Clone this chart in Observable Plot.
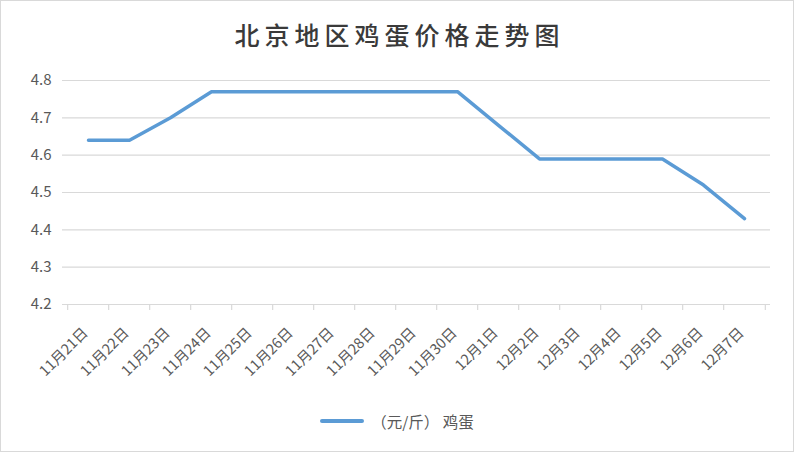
<!DOCTYPE html>
<html><head><meta charset="utf-8">
<script src="https://cdn.jsdelivr.net/npm/d3@7"></script>
<script src="https://cdn.jsdelivr.net/npm/@observablehq/plot@0.6"></script>
<style>
body{margin:0;background:#fff;}
#wrap{position:relative;width:794px;height:452px;background:#fff;overflow:hidden;font-family:"Noto Sans CJK SC",sans-serif;}
#frame{position:absolute;left:0;top:0;width:792px;height:450px;border:1px solid #d9d9d9;pointer-events:none;}
#title{position:absolute;left:0;top:14px;width:794px;text-align:center;font-size:25px;font-weight:500;letter-spacing:5px;text-indent:5px;color:#3a3a3a;line-height:40px;}
#chart{position:absolute;left:0;top:60px;}
#legend{position:absolute;top:408px;left:0;width:794px;display:flex;justify-content:center;align-items:center;font-size:15.5px;color:#595959;line-height:26px;}
#legend .sw{width:44px;height:4px;border-radius:2px;background:#5b9bd5;margin-right:7px;}
</style>
</head><body>
<div id="wrap">
  <div id="title">北京地区鸡蛋价格走势图</div>
  <div id="chart"></div>
  <div id="legend"><span class="sw"></span><span>（元/斤） 鸡蛋</span></div>
  <div id="frame"></div>
</div>
<script>
const dates = ["11月21日","11月22日","11月23日","11月24日","11月25日","11月26日","11月27日","11月28日","11月29日","11月30日","12月1日","12月2日","12月3日","12月4日","12月5日","12月6日","12月7日"];
const prices = [4.64,4.64,4.70,4.77,4.77,4.77,4.77,4.77,4.77,4.77,4.68,4.59,4.59,4.59,4.59,4.52,4.43];
const yTicks = [4.2,4.3,4.4,4.5,4.6,4.7,4.8];

const W = 794, H = 340, ML = 62, MR = 24, MT = 20, MB = 96;
const step = (W - ML - MR) / dates.length;
const data = dates.map((d, i) => ({d, v: prices[i]}));

const chart = Plot.plot({
  width: W, height: H,
  marginLeft: ML, marginRight: MR, marginTop: MT, marginBottom: MB,
  style: {fontFamily: '"Noto Sans CJK SC", sans-serif', fontSize: "14px", color: "#595959", background: "transparent"},
  x: {type: "point", domain: dates, padding: 0.5},
  y: {domain: [4.2, 4.8]},
  marks: [
    Plot.ruleY(yTicks, {stroke: "#d9d9d9", strokeWidth: 1.2}),
    Plot.ruleX(dates, {x: d => d, y1: 4.2, y2: 4.2, insetBottom: -6, dx: -step / 2, stroke: "#d9d9d9", strokeWidth: 1.2}),
    Plot.ruleX([dates[dates.length - 1]], {x: d => d, y1: 4.2, y2: 4.2, insetBottom: -6, dx: step / 2, stroke: "#d9d9d9", strokeWidth: 1.2}),
    Plot.axisY({ticks: yTicks, tickSize: 0, tickPadding: 11, tickFormat: d3.format(".1f"), fontSize: 15, label: null}),
    Plot.axisX({tickSize: 0, tickRotate: -45, tickPadding: 26, dx: -3, label: null, fontSize: 14.5}),
    Plot.line(data, {x: "d", y: "v", stroke: "#5b9bd5", strokeWidth: 3.5, strokeLinecap: "round", strokeLinejoin: "round"})
  ]
});
document.getElementById("chart").appendChild(chart);
</script>
</body></html>
